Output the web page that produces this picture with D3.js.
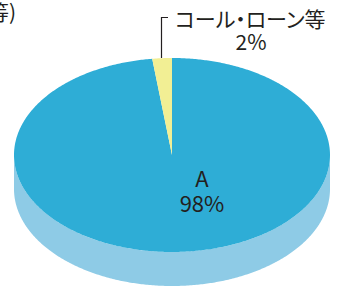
<!DOCTYPE html>
<html>
<head>
<meta charset="utf-8">
<script src="https://cdn.jsdelivr.net/npm/d3@7"></script>
<style>
  body { margin: 0; background: #fff; }
  text { font-family: "Noto Sans CJK JP", "Noto Sans", sans-serif; fill: #231f20; font-feature-settings: "palt"; }
</style>
</head>
<body>
<div class="visHolder"></div>
<script>
const width = 341;
const height = 291;

// data
const categories = ["A", "コール・ローン等"];
const values = [98, 2];
const colors = ["#2eadd6", "#f2ef94"];

const cx = 172, cy = 155, rx = 158, ry = 97, depth = 34;

const svg = d3.select(".visHolder")
  .append("svg")
  .attr("width", width)
  .attr("height", height);

const pie = d3.pie().sort(null).value(d => d)(values);

// angle measured clockwise from top
const pt = (a, dy) => [cx + rx * Math.sin(a), cy - ry * Math.cos(a) + (dy || 0)];
const line = d3.line();

function arcPoints(a0, a1, dy) {
  const n = Math.max(2, Math.ceil((a1 - a0) / 0.01));
  return d3.range(n + 1).map(i => pt(a0 + (a1 - a0) * i / n, dy));
}

// side (front half only)
pie.forEach(p => {
  const a0 = Math.max(p.startAngle, Math.PI / 2);
  const a1 = Math.min(p.endAngle, Math.PI * 1.5);
  if (a1 <= a0) return;
  const top = arcPoints(a0, a1, 0);
  const bot = arcPoints(a0, a1, depth).reverse();
  svg.append("path")
    .attr("d", line(top.concat(bot)) + "Z")
    .attr("fill", "#8ecbe6");
});

// top face
svg.selectAll("path.slice")
  .data(pie)
  .enter()
  .append("path")
  .attr("class", "slice")
  .attr("d", p => line([[cx, cy]].concat(arcPoints(p.startAngle, p.endAngle, 0))) + "Z")
  .attr("fill", (p, i) => colors[i]);

// leader line for small slice
svg.append("path")
  .attr("d", "M168,17.5H161.5V58")
  .attr("fill", "none")
  .attr("stroke", "#231f20")
  .attr("stroke-width", 1.2);

svg.append("text")
  .attr("x", 175).attr("y", 27)
  .style("font-size", "21px")
  .text(categories[1]);
svg.append("text")
  .attr("x", 251).attr("y", 50)
  .attr("text-anchor", "middle")
  .style("font-size", "21px")
  .text(values[1] + "%");

svg.append("text")
  .attr("x", 202).attr("y", 187)
  .attr("text-anchor", "middle")
  .style("font-size", "22px")
  .text(categories[0]);
svg.append("text")
  .attr("x", 202).attr("y", 212)
  .attr("text-anchor", "middle")
  .style("font-size", "22px")
  .text(values[0] + "%");

// cut-off heading at top-left
svg.append("text")
  .attr("x", 16).attr("y", 20)
  .attr("text-anchor", "end")
  .style("font-size", "21px")
  .text("（預金等)");
</script>
</body>
</html>
